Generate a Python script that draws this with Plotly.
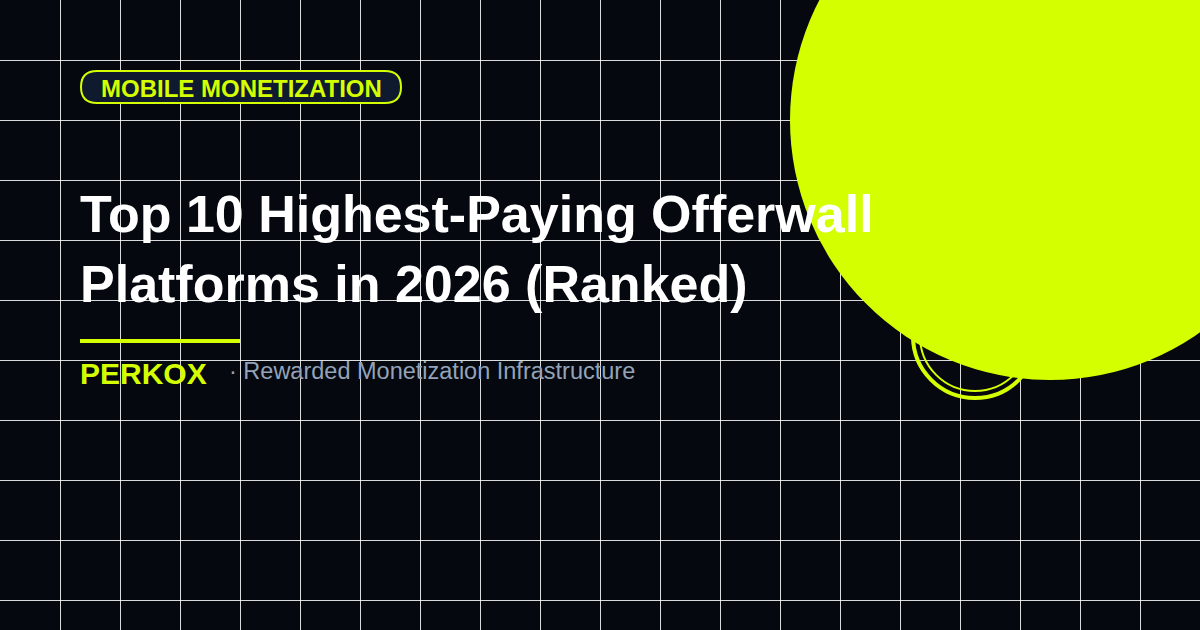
import plotly.graph_objects as go

title_lines = ["Top 10 Highest-Paying Offerwall", "Platforms in 2026 (Ranked)"]
tag_text = "MOBILE MONETIZATION"
brand = "PERKOX"
subtitle = "· Rewarded Monetization Infrastructure"

BG = "#05080f"
LIME = "#d4ff00"
FONT = "Liberation Sans, Arial, sans-serif"

fig = go.Figure()
fig.add_trace(go.Scatter(x=[0, 1200], y=[0, 630], mode="markers",
                         marker=dict(opacity=0), hoverinfo="skip", showlegend=False))

shapes = []
# rings behind the big circle
shapes.append(dict(type="circle", x0=975-62, x1=975+62, y0=336-62, y1=336+62,
                   line=dict(color=LIME, width=4)))
shapes.append(dict(type="circle", x0=975-55, x1=975+55, y0=336-55, y1=336+55,
                   line=dict(color=LIME, width=2)))
# big circle
shapes.append(dict(type="circle", x0=1050-260, x1=1050+260, y0=120-260, y1=120+260,
                   fillcolor=LIME, line=dict(width=0)))
# tag pill
shapes.append(dict(type="path",
                   path="M 97,71 L 385,71 Q 401,71 401,87 Q 401,103 385,103 L 97,103 Q 81,103 81,87 Q 81,71 97,71 Z",
                   fillcolor="#101a2e", line=dict(color=LIME, width=2)))
# accent line
shapes.append(dict(type="line", x0=80, x1=240, y0=341, y1=341, line=dict(color=LIME, width=4)))
for s in shapes:
    s.update(xref="x", yref="y")
fig.update_layout(shapes=shapes)

ann = [
    dict(x=241, y=88, text="<b>" + tag_text + "</b>", font=dict(size=24, color=LIME)),
    dict(x=78, y=214, text="<b>" + title_lines[0] + "</b>", font=dict(size=52, color="white"), xanchor="left"),
    dict(x=78, y=284, text="<b>" + title_lines[1] + "</b>", font=dict(size=52, color="white"), xanchor="left"),
    dict(x=78, y=373, text="<b>" + brand + "</b>", font=dict(size=30, color=LIME), xanchor="left"),
    dict(x=227, y=371, text=subtitle, font=dict(size=23.5, color="#94a3b8"), xanchor="left"),
]
for a in ann:
    a.update(xref="x", yref="y", showarrow=False, yanchor="middle", font=dict(family=FONT, **a["font"]))
fig.update_layout(annotations=ann)

fig.update_xaxes(range=[0, 1200], dtick=60, tick0=0, showgrid=True, gridcolor="rgba(255,255,255,0.85)",
                 gridwidth=1, zeroline=False, showticklabels=False, fixedrange=True)
fig.update_yaxes(range=[630, 0], dtick=60, tick0=0, showgrid=True, gridcolor="rgba(255,255,255,0.85)",
                 gridwidth=1, zeroline=False, showticklabels=False, fixedrange=True)
fig.update_layout(width=1200, height=630, margin=dict(l=0, r=0, t=0, b=0),
                  paper_bgcolor=BG, plot_bgcolor=BG, showlegend=False)
fig.write_html("out.html", config={"displayModeBar": False},
               post_script="document.body.style.margin='0';document.body.style.background='#05080f';")
